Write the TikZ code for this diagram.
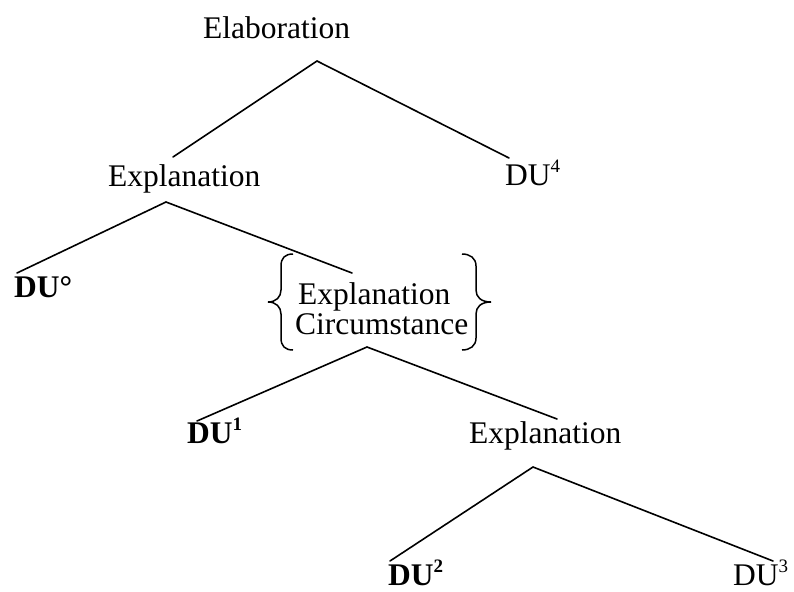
\documentclass[tikz,border=0pt]{standalone}
\usepackage{fontspec}
\setmainfont{Liberation Serif}
\newcommand{\supx}[1]{\raisebox{0.4em}{\fontsize{19}{19}\selectfont #1}}
\begin{document}
\begin{tikzpicture}[x=1pt,y=-1pt,
  lbl/.style={inner sep=0pt, anchor=base west, font=\fontsize{31.5}{31.5}\selectfont},
  edge/.style={line width=1.6pt, line cap=round, line join=miter},
  brace/.style={line width=1.5pt}]
\useasboundingbox (0,0) rectangle (794,591);
% labels
\node[lbl] (elab) at (203,39) {Elaboration};
\node[lbl] (expl1) at (108,186) {Explanation};
\node[lbl] (du4) at (505,185) {DU\supx{4}};
\node[lbl] (du0) at (14,297) {\textbf{DU°}};
\node[lbl] (grp1) at (298,304) {Explanation};
\node[lbl] (grp2) at (295,334) {Circumstance};
\node[lbl] (du1) at (187,443) {\textbf{DU\supx{1}}};
\node[lbl] (expl2) at (469,443) {Explanation};
\node[lbl] (du2) at (388,585) {\textbf{DU\supx{2}}};
\node[lbl] (du3) at (733,585) {DU\supx{3}};
% braces
\draw[brace] (293,254) .. controls (285,254) and (281,258) .. (281,266) -- (281,290)
  .. controls (281,297) and (276,302) .. (268,302)
  .. controls (276,302) and (281,307) .. (281,314) -- (281,338)
  .. controls (281,346) and (285,350) .. (293,350);
\draw[brace] (462,254) .. controls (470,254) and (476,258) .. (476,266) -- (476,290)
  .. controls (476,297) and (481,302) .. (491,302)
  .. controls (481,302) and (476,307) .. (476,314) -- (476,338)
  .. controls (476,346) and (470,350) .. (462,350);
% apex and end points
\coordinate (elab-apex) at (317,61);
\coordinate (expl1-top) at (173,157);
\coordinate (du4-top) at (509,158);
\coordinate (expl1-apex) at (166,202);
\coordinate (du0-top) at (17,273);
\coordinate (grp-top) at (352,273);
\coordinate (grp-apex) at (367,347);
\coordinate (du1-top) at (197,421);
\coordinate (expl2-top) at (557,419);
\coordinate (expl2-apex) at (533,467);
\coordinate (du2-top) at (390,561);
\coordinate (du3-top) at (773,561);
% connectors
\draw[edge] (expl1-top) -- (elab-apex) -- (du4-top);
\draw[edge] (du0-top) -- (expl1-apex) -- (grp-top);
\draw[edge] (du1-top) -- (grp-apex) -- (expl2-top);
\draw[edge] (du2-top) -- (expl2-apex) -- (du3-top);
\end{tikzpicture}
\end{document}
